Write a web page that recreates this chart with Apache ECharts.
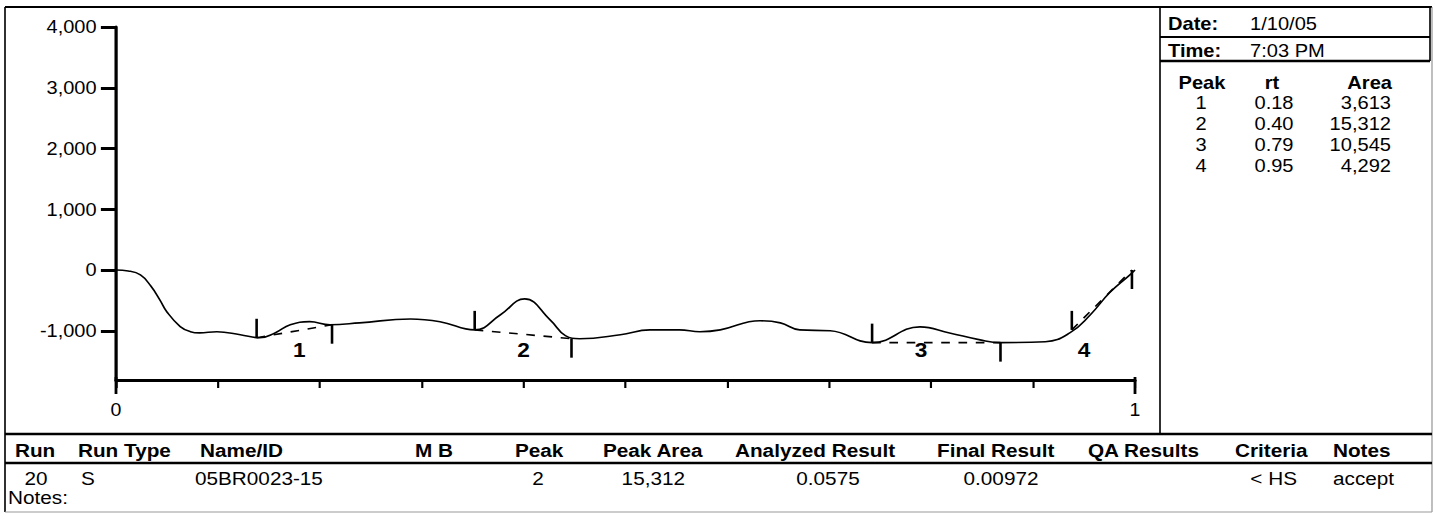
<!DOCTYPE html>
<html>
<head>
<meta charset="utf-8">
<script src="https://cdn.jsdelivr.net/npm/echarts@6/dist/echarts.min.js"></script>
<style>
  html, body { margin: 0; padding: 0; background: #fff; overflow: hidden; }
  /* the printed report is laid out slightly wide, so the page is drawn at a narrower width and stretched */
  #chart { width: 1329px; height: 523px; transform: scaleX(1.08); transform-origin: 0 0; }
</style>
</head>
<body>
<div id="chart"></div>
<script>
// ---- chromatogram trace: retention time (0..1) vs detector response ----
const rtTime = [0.000, 0.012, 0.024, 0.034, 0.043, 0.050, 0.063, 0.073, 0.082, 0.099, 0.122, 0.141, 0.156,
  0.171, 0.190, 0.210, 0.239, 0.289, 0.318, 0.352, 0.377, 0.401, 0.426, 0.441, 0.455, 0.495,
  0.524, 0.553, 0.573, 0.593, 0.632, 0.652, 0.671, 0.701, 0.742, 0.789, 0.818, 0.848, 0.868,
  0.912, 0.936, 0.956, 0.975, 0.995, 1.000];
const response = [0, -15, -80, -260, -490, -690, -930, -1015, -1035, -1015, -1065, -1115, -1035,
  -900, -850, -900, -870, -805, -850, -985, -740, -475, -820, -1080, -1130, -1065,
  -985, -985, -1015, -985, -835, -870, -985, -1000, -1195, -935, -1035, -1150, -1195,
  -1180, -1035, -740, -375, -80, 0];

// ---- axes ----
const yMin = -1810;
const yMax = 4000;
const yTicks = [-1000, 0, 1000, 2000, 3000, 4000];
const xTickLabels = ['0', '1'];
const xEnds = [0, 1];

// ---- integrated peaks ----
const peakNo = [1, 2, 3, 4];
const peakRt = [0.18, 0.40, 0.79, 0.95];
const peakArea = ['3,613', '15,312', '10,545', '4,292'];
const peakStartRt = [0.138, 0.352, 0.742, 0.938];
const peakStartVal = [-1115, -985, -1195, -985];
const peakEndRt = [0.212, 0.447, 0.868, 0.997];
const peakEndVal = [-900, -1130, -1195, 0];
const peakLabelLevel = -1320;

// ---- run header ----
const runDate = '1/10/05';
const runTime = '7:03 PM';

// ---- run summary table ----
const runHeaders = ['Run', 'Run Type', 'Name/ID', 'M B', 'Peak', 'Peak Area', 'Analyzed Result',
  'Final Result', 'QA Results', 'Criteria', 'Notes'];
const runValues = ['20', 'S', '05BR0023-15', '', '2', '15,312', '0.0575', '0.00972', '', '< HS', 'accept'];
const notesLabel = 'Notes:';

// ---- layout (page pixels, converted to the narrower drawing width) ----
const S = 1.08;
const X = v => v / S;
const FONT = '"Liberation Sans", Arial, sans-serif';

const headerX = [15, 78, 200, 415, 515, 603, 735, 937, 1088, 1235, 1333];
const valueX = [36, 88, 195, 0, 538, 685, 828, 1001, 0, 1297, 1333];
const valueAlign = ['center', 'center', 'left', 'left', 'center', 'right', 'center', 'center', 'left', 'right', 'left'];

const graphics = [];
function hline(x1, x2, y, w, color) {
  graphics.push({ type: 'line', shape: { x1: X(x1), y1: y, x2: X(x2), y2: y },
    style: { stroke: color || '#000', lineWidth: w }, silent: true });
}
function vline(x, y1, y2, w, color) {
  graphics.push({ type: 'line', shape: { x1: X(x), y1: y1, x2: X(x), y2: y2 },
    style: { stroke: color || '#000', lineWidth: w }, silent: true });
}
function text(str, x, y, align, bold, size) {
  graphics.push({ type: 'text', x: X(x), y: y, silent: true,
    style: { text: str, fill: '#000', font: (bold ? 'bold ' : '') + size + 'px ' + FONT,
      textAlign: align || 'left', textVerticalAlign: 'middle' } });
}

// outer frame
hline(5, 1432, 7, 2);
vline(5, 7, 512, 1.5);
vline(1432, 7, 512, 1, '#888');
hline(5, 1432, 512, 1, '#999');
// peak table panel
vline(1160, 7, 433, 1.5);
hline(1160, 1430, 37, 2);
hline(1160, 1430, 61, 2.5);
vline(1430, 7, 61, 1.5);
const PF = 18.6;
text('Date:', 1168, 23, 'left', true, PF);
text(runDate, 1250, 23, 'left', false, PF);
text('Time:', 1168, 50, 'left', true, PF);
text(runTime, 1250, 50, 'left', false, PF);
text('Peak', 1202, 82, 'center', true, PF);
text('rt', 1272, 82, 'center', true, PF);
text('Area', 1392, 82, 'right', true, PF);
peakNo.forEach((n, i) => {
  const y = 102 + i * 21;
  text(String(n), 1201, y, 'center', false, PF);
  text(peakRt[i].toFixed(2), 1274, y, 'center', false, PF);
  text(peakArea[i], 1391, y, 'right', false, PF);
});
// run summary table
const TF = 19.2;
hline(5, 1432, 434, 2.5);
hline(5, 1432, 463, 2.5);
runHeaders.forEach((h, i) => text(h, headerX[i], 450, 'left', true, TF));
runValues.forEach((v, i) => { if (v) text(v, valueX[i], 478, valueAlign[i], false, TF); });
text(notesLabel, 8, 497, 'left', false, TF);

const chart = echarts.init(document.getElementById('chart'), null, { renderer: 'svg' });

chart.setOption({
  animation: false,
  backgroundColor: '#fff',
  textStyle: { fontFamily: FONT },
  grid: { left: X(116), top: 27, width: X(1019), height: 353, containLabel: false },
  xAxis: {
    type: 'value', min: 0, max: 1, interval: 0.1,
    axisLine: { onZero: false, lineStyle: { color: '#000', width: 3 } },
    axisTick: { length: 8, lineStyle: { color: '#000', width: 2 } },
    splitLine: { show: false },
    axisLabel: {
      margin: 21, color: '#000', fontSize: 18.1, fontFamily: FONT,
      formatter: v => (v === 0 ? xTickLabels[0] : (v === 1 ? xTickLabels[1] : ''))
    }
  },
  yAxis: {
    type: 'value', min: yMin, max: yMax,
    axisLine: { show: true, onZero: false, lineStyle: { color: '#000', width: 3 } },
    axisTick: { show: true, length: 14, customValues: yTicks, lineStyle: { color: '#000', width: 3 } },
    splitLine: { show: false },
    axisLabel: {
      margin: 18, color: '#000', fontSize: 18.5, fontFamily: FONT, customValues: yTicks,
      formatter: v => v.toLocaleString('en-US')
    }
  },
  graphic: graphics,
  series: [
    {
      type: 'line', name: 'trace',
      data: rtTime.map((t, i) => [t, response[i]]),
      smooth: 0.45, symbol: 'none',
      lineStyle: { color: '#000', width: 1.6 }
    },
    {
      // longer end marks at the start and end of the time axis
      type: 'custom', name: 'axis ends',
      data: xEnds.map(v => [v, yMin]),
      renderItem: (params, api) => {
        const p = api.coord([api.value(0), api.value(1)]);
        return { type: 'line', shape: { x1: p[0], y1: p[1] - 3, x2: p[0], y2: p[1] + 14 },
          style: { stroke: '#000', lineWidth: 2.6 } };
      }
    },
    {
      type: 'custom', name: 'baselines',
      data: peakNo.map((n, i) => [peakStartRt[i], peakStartVal[i], peakEndRt[i], peakEndVal[i]]),
      renderItem: (params, api) => {
        const p0 = api.coord([api.value(0), api.value(1)]);
        const p1 = api.coord([api.value(2), api.value(3)]);
        return {
          type: 'group',
          children: [
            { type: 'line', shape: { x1: p0[0], y1: p0[1] - 19, x2: p0[0], y2: p0[1] },
              style: { stroke: '#000', lineWidth: 2.4 } },
            { type: 'line', shape: { x1: p0[0], y1: p0[1], x2: p1[0], y2: p1[1] },
              style: { stroke: '#000', lineWidth: 1.6, lineDash: [8, 8] } },
            { type: 'line', shape: { x1: p1[0], y1: p1[1], x2: p1[0], y2: p1[1] + 19 },
              style: { stroke: '#000', lineWidth: 2.4 } }
          ]
        };
      }
    },
    {
      type: 'custom', name: 'peak numbers',
      data: peakNo.map((n, i) => [peakRt[i], peakLabelLevel, n]),
      renderItem: (params, api) => {
        const p = api.coord([api.value(0), api.value(1)]);
        return {
          type: 'text', x: p[0], y: p[1],
          style: { text: String(api.value(2)), fill: '#000', font: 'bold 21px ' + FONT,
            textAlign: 'center', textVerticalAlign: 'middle' }
        };
      }
    }
  ]
});
</script>
</body>
</html>
